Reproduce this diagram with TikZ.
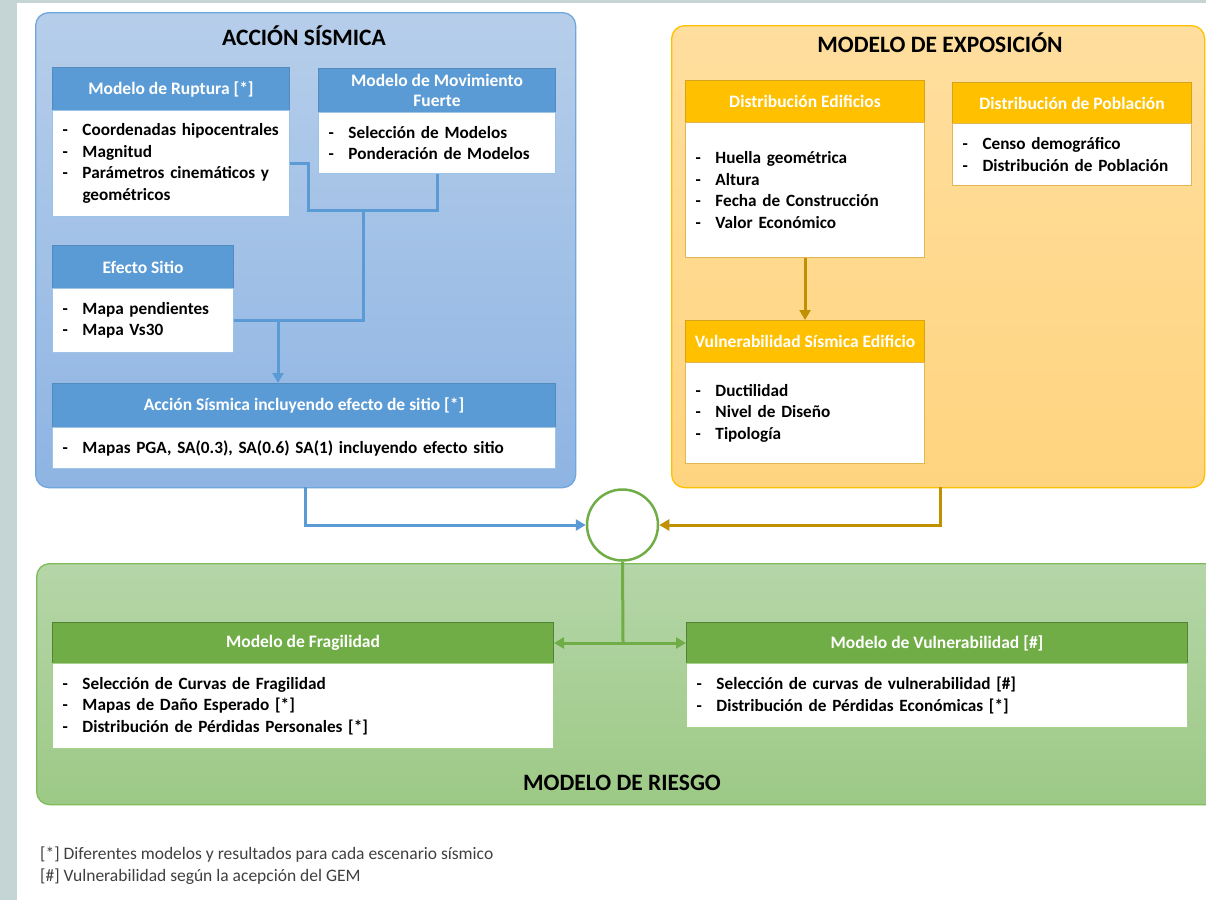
\documentclass[tikz,border=0pt]{standalone}
\usepackage{fontspec}
\setmainfont{Carlito}
\usetikzlibrary{arrows.meta,calc}
\definecolor{stripgray}{HTML}{C5D4D4}
\definecolor{bluetop}{HTML}{B6CEEA}
\definecolor{bluebot}{HTML}{8EB4E3}
\definecolor{blueedge}{HTML}{6FA6DC}
\definecolor{bluehdr}{HTML}{5B9BD5}
\definecolor{bluebody}{HTML}{9DC3E6}
\definecolor{blueline}{HTML}{5B9BD5}
\definecolor{orgtop}{HTML}{FFDE9E}
\definecolor{orgbot}{HTML}{FFD47F}
\definecolor{orgedge}{HTML}{FFC000}
\definecolor{orghdr}{HTML}{FFC000}
\definecolor{orghdredge}{HTML}{D6A31C}
\definecolor{orgbody}{HTML}{E2B650}
\definecolor{goldline}{HTML}{BF9000}
\definecolor{grntop}{HTML}{B5D6A8}
\definecolor{grnbot}{HTML}{9DC986}
\definecolor{grnedge}{HTML}{7DBB5B}
\definecolor{grnhdr}{HTML}{70AD47}
\definecolor{grnhdredge}{HTML}{548235}
\definecolor{grnbody}{HTML}{A9D18E}
\definecolor{legendgray}{HTML}{404040}
\newcommand{\li}[1]{\mbox{\makebox[20pt][l]{-}#1}}
\newcommand{\lc}[1]{\mbox{\hspace*{20pt}#1}}
\begin{document}
\begin{tikzpicture}[x=1pt,y=-1pt,
  container/.style={anchor=north west, inner sep=0pt, rounded corners=13pt, line width=1.3pt},
  hdr/.style={anchor=north west, inner sep=0pt, line width=1pt, text=white,
    font=\fontsize{17.5}{20}\selectfont\bfseries, align=center},
  hdrB/.style={hdr, fill=bluehdr, draw=bluehdr!90!black},
  hdrO/.style={hdr, fill=orghdr, draw=orghdredge},
  hdrG/.style={hdr, fill=grnhdr, draw=grnhdredge},
  body/.style={anchor=north west, inner xsep=10pt, inner ysep=0pt, fill=white, line width=1pt,
    align=left, font=\fontsize{17.2}{21.5}\selectfont\bfseries},
  bodyB/.style={body, draw=bluebody},
  bodyO/.style={body, draw=orgbody},
  bodyG/.style={body, draw=grnbody},
  title/.style={font=\fontsize{23.5}{26}\selectfont\bfseries, inner sep=0pt},
  bline/.style={draw=blueline, line width=3pt},
  tip/.style={-{Triangle[length=10pt,width=11pt]}},
  legend/.style={anchor=west, inner sep=0pt, text=legendgray, font=\fontsize{17.5}{20}\selectfont},
]
\useasboundingbox (0,0) rectangle (1206,900);
\fill[white] (0,0) rectangle (1206,900);
\fill[stripgray] (0,0) rectangle (17,900);
\fill[stripgray] (0,0) rectangle (1206,2.5);

% containers
\node[container, top color=bluetop, bottom color=bluebot, draw=blueedge,
  minimum width=540pt, minimum height=475pt] (blueC) at (35,12) {};
\node[container, top color=orgtop, bottom color=orgbot, draw=orgedge,
  minimum width=533pt, minimum height=462pt] (orgC) at (671,25) {};
\begin{scope}
\clip (0,0) rectangle (1206,900);
\node[container, top color=grntop, bottom color=grnbot, draw=grnedge,
  minimum width=1190pt, minimum height=241pt] (grnC) at (36,563) {};
\end{scope}

% titles
\node[title] (titA) at (304,36) {ACCIÓN SÍSMICA};
\node[title] (titE) at (940,43) {MODELO DE EXPOSICIÓN};
\node[title] (titR) at (622,783) {MODELO DE RIESGO};

% Accion sismica boxes
\node[hdrB, minimum width=237pt, minimum height=43pt] (rupH) at (52,67) {Modelo de Ruptura [*]};
\node[bodyB, text width=217pt, minimum height=106pt] (rupB) at (52,110)
  {\li{Coordenadas hipocentrales}\\ \li{Magnitud}\\ \li{Parámetros cinemáticos y}\\ \lc{geométricos}};
\node[hdrB, minimum width=237pt, minimum height=44pt] (movH) at (318,68) {Modelo de Movimiento\\Fuerte};
\node[bodyB, text width=217pt, minimum height=61pt] (movB) at (318,112)
  {\li{Selección de Modelos}\\ \li{Ponderación de Modelos}};
\node[hdrB, minimum width=181pt, minimum height=43pt] (sitH) at (52,245) {Efecto Sitio};
\node[bodyB, text width=161pt, minimum height=64pt] (sitB) at (52,288)
  {\li{Mapa pendientes}\\ \li{Mapa Vs30}};
\node[hdrB, minimum width=503pt, minimum height=44pt] (accH) at (52,383) {Acción Sísmica incluyendo efecto de sitio [*]};
\node[bodyB, text width=483pt, minimum height=41pt] (accB) at (52,427)
  {\li{Mapas PGA, SA(0.3), SA(0.6) SA(1) incluyendo efecto sitio}};

% Exposicion boxes
\node[hdrO, minimum width=239pt, minimum height=42pt] (ediH) at (685,80) {Distribución Edificios};
\node[bodyO, text width=219pt, minimum height=135pt] (ediB) at (685,122)
  {\li{Huella geométrica}\\ \li{Altura}\\ \li{Fecha de Construcción}\\ \li{Valor Económico}};
\node[hdrO, minimum width=239pt, minimum height=41pt] (pobH) at (952,82) {Distribución de Población};
\node[bodyO, text width=219pt, minimum height=62pt] (pobB) at (952,123)
  {\li{Censo demográfico}\\ \li{Distribución de Población}};
\node[hdrO, minimum width=239pt, minimum height=42pt] (vseH) at (685,320) {Vulnerabilidad Sísmica Edificio};
\node[bodyO, text width=219pt, minimum height=101pt] (vseB) at (685,362)
  {\li{Ductilidad}\\ \li{Nivel de Diseño}\\ \li{Tipología}};

% Riesgo boxes
\node[hdrG, minimum width=501pt, minimum height=41pt] (fraH) at (52,622) {Modelo de Fragilidad};
\node[bodyG, text width=481pt, minimum height=85pt] (fraB) at (52,663)
  {\li{Selección de Curvas de Fragilidad}\\ \li{Mapas de Daño Esperado [*]}\\ \li{Distribución de Pérdidas Personales [*]}};
\node[hdrG, minimum width=501pt, minimum height=41pt] (vulH) at (686,622) {Modelo de Vulnerabilidad [\#]};
\node[bodyG, text width=481pt, minimum height=64pt] (vulB) at (686,663)
  {\li{Selección de curvas de vulnerabilidad [\#]}\\ \li{Distribución de Pérdidas Económicas [*]}};

% circle
\node[circle, draw=grnhdr, line width=2.5pt, fill=white, minimum size=71pt, inner sep=0pt] (circ) at (622.5,525) {};

% blue connectors
\coordinate (j1) at (308,210);
\coordinate (j2) at (363,210);
\coordinate (j4) at (278,320);
\draw[bline] (rupB.east) -| (j1) -| (movB.south);
\draw[bline] (j2) |- (sitB.east);
\draw[bline, tip] (j4) -- (j4 |- accH.north);
\coordinate (b1) at (305,487);
\draw[bline, tip] (b1) |- (circ.west);

% gold connectors
\draw[draw=goldline, line width=3pt, tip] (ediB.south) -- (vseH.north);
\coordinate (o1) at (940,487);
\draw[draw=goldline, line width=3pt, tip] (o1) |- (circ.east);

% green connectors
\coordinate (g1) at (623,642);
\draw[draw=grnhdr, line width=3pt] (circ.south) -- (g1);
\draw[draw=grnhdr, line width=3pt, {Triangle[length=10pt,width=11pt]}-{Triangle[length=10pt,width=11pt]}] (fraH.east) -- (vulH.west);

% legend
\node[legend] (leg1) at (40,855) {[*] Diferentes modelos y resultados para cada escenario sísmico};
\node[legend] (leg2) at (40,877) {[\#] Vulnerabilidad según la acepción del GEM};
\end{tikzpicture}
\end{document}
